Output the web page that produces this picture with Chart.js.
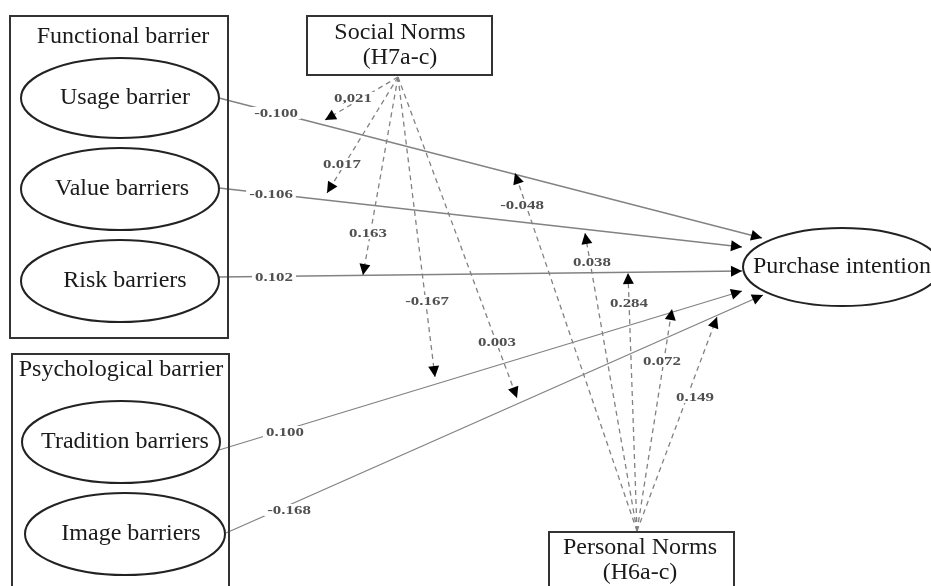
<!DOCTYPE html>
<html>
<head>
<meta charset="utf-8">
<script src="https://cdn.jsdelivr.net/npm/chart.js@4/dist/chart.umd.min.js"></script>
<style>
html,body{margin:0;padding:0;background:#fff;}
#wrap{width:931px;height:586px;position:relative;}
</style>
</head>
<body>
<div id="wrap"><canvas id="c"></canvas></div>
<script>
// ---------- data ----------
const constructs = ['Usage barrier','Value barriers','Risk barriers','Tradition barriers','Image barriers'];
const outcome = 'Purchase intention';
const groups = ['Functional barrier','Psychological barrier'];
const moderators = [['Social Norms','(H7a-c)'],['Personal Norms','(H6a-c)']];
const directCoefs = ['-0.100','-0.106','0.102','0.100','-0.168'];
const socialCoefs = ['0,021','0.017','0.163','-0.167','0.003'];
const personalCoefs = ['-0.048','0.038','0.284','0.072','0.149'];

// ---------- layout (diagram coordinates, y downward) ----------
const constructCenters = [[120,98],[120,189],[120,281],[121,442],[125,534]];
const constructRadii = [[99,40],[99,41],[99,41],[99,41],[100,41]];
const constructTextX = [125,122,125,125,131];
const outcomeCenter = [842,267];
const outcomeRadii = [99,39];
const groupBoxes = [[10,16,228,338],[12,354,229,600]];
const groupTitlePos = [[123,37],[121,370]];
const modBoxes = [[307,16,492,75],[549,532,734,600]];
const modTextPos = [[400,33,58],[640,548,573]];
const directStart = [[219,98],[219,188],[219,277],[219,450],[226,533]];
const directEnd = [[762,238],[742,247],[742,271],[742,291],[763,295]];
const directLabelPos = [[276,113],[271,194],[274,277],[285,432],[289,510]];
const socialOrigin = [398,77];
const socialEnd = [[325,120],[327,193],[363,275],[435,377],[517,398]];
const socialLabelPos = [[353,98],[342,164],[368,233],[427,301],[497,342]];
const personalOrigin = [637,531];
const personalEnd = [[515,173],[585,233],[628,273],[672,309],[717,317]];
const personalLabelPos = [[522,205],[592,262],[629,303],[662,361],[695,397]];

const LINE = '#828282';
const datasets = [];
function addEdge(a,b,dashed,label,lp){
  datasets.push({
    data:[{x:a[0],y:a[1]},{x:b[0],y:b[1]}],
    showLine:true, borderColor:LINE, borderWidth:1.3,
    borderDash: dashed?[5,4]:[],
    pointRadius:0, pointHoverRadius:0,
    edgeLabel:label, labelPos:lp, arrow:true
  });
}
for(let i=0;i<constructs.length;i++) addEdge(directStart[i],directEnd[i],false,directCoefs[i],directLabelPos[i]);
for(let i=0;i<socialCoefs.length;i++) addEdge(socialOrigin,socialEnd[i],true,socialCoefs[i],socialLabelPos[i]);
for(let i=0;i<personalCoefs.length;i++) addEdge(personalOrigin,personalEnd[i],true,personalCoefs[i],personalLabelPos[i]);

const diagramPlugin = {
  id:'diagram',
  afterDatasetsDraw(chart){
    const ctx = chart.ctx, xs = chart.scales.x, ys = chart.scales.y;
    const px = v=>xs.getPixelForValue(v), py = v=>ys.getPixelForValue(v);
    ctx.save();
    // arrowheads
    chart.data.datasets.forEach(ds=>{
      const p0 = ds.data[0], p1 = ds.data[1];
      const x0=px(p0.x), y0=py(p0.y), x1=px(p1.x), y1=py(p1.y);
      const ang = Math.atan2(y1-y0,x1-x0);
      const L=11, W=5.5;
      ctx.fillStyle='#000';
      ctx.beginPath();
      ctx.moveTo(x1,y1);
      ctx.lineTo(x1-L*Math.cos(ang)+W*Math.sin(ang), y1-L*Math.sin(ang)-W*Math.cos(ang));
      ctx.lineTo(x1-L*Math.cos(ang)-W*Math.sin(ang), y1-L*Math.sin(ang)+W*Math.cos(ang));
      ctx.closePath(); ctx.fill();
    });
    // edge labels
    ctx.font = 'bold 13px "Liberation Serif"';
    ctx.textAlign='center'; ctx.textBaseline='middle';
    chart.data.datasets.forEach(ds=>{
      const lx=px(ds.labelPos[0]), ly=py(ds.labelPos[1]);
      const w = ctx.measureText(ds.edgeLabel).width*1.3;
      ctx.fillStyle='#fff';
      ctx.fillRect(lx-w/2-3, ly-6, w+6, 12);
      ctx.save();
      ctx.translate(lx,ly); ctx.scale(1.3,1);
      ctx.fillStyle='#505050';
      ctx.fillText(ds.edgeLabel,0,1);
      ctx.restore();
    });
    // boxes
    ctx.strokeStyle='#333'; ctx.lineWidth=2;
    groupBoxes.concat(modBoxes).forEach((b,i)=>{
      const x0=px(b[0]), y0=py(b[1]), x1=px(b[2]), y1=py(b[3]);
      if(i>=groupBoxes.length){ ctx.fillStyle='#fff'; ctx.fillRect(x0,y0,x1-x0,y1-y0); }
      ctx.strokeRect(x0,y0,x1-x0,y1-y0);
    });
    // ellipses
    const ell=(c,r)=>{
      const cx=px(c[0]), cy=py(c[1]);
      const rx=px(c[0]+r[0])-cx, ry=py(c[1]+r[1])-cy;
      ctx.beginPath(); ctx.ellipse(cx,cy,Math.abs(rx),Math.abs(ry),0,0,Math.PI*2);
      ctx.fillStyle='#fff'; ctx.fill();
      ctx.strokeStyle='#222'; ctx.lineWidth=2; ctx.stroke();
    };
    constructCenters.forEach((c,i)=>ell(c,constructRadii[i]));
    ell(outcomeCenter,outcomeRadii);
    // texts
    ctx.fillStyle='#1a1a1a';
    ctx.font='24px "Liberation Serif"';
    ctx.textAlign='center'; ctx.textBaseline='middle';
    constructs.forEach((t,i)=>ctx.fillText(t,px(constructTextX[i]),py(constructCenters[i][1])));
    ctx.fillText(outcome,px(outcomeCenter[0]),py(outcomeCenter[1]));
    groups.forEach((t,i)=>ctx.fillText(t,px(groupTitlePos[i][0]),py(groupTitlePos[i][1])));
    moderators.forEach((m,i)=>{
      ctx.fillText(m[0],px(modTextPos[i][0]),py(modTextPos[i][1]));
      ctx.fillText(m[1],px(modTextPos[i][0]),py(modTextPos[i][2]));
    });
    ctx.restore();
  }
};

new Chart(document.getElementById('c'),{
  type:'scatter',
  data:{datasets},
  options:{
    responsive:true, maintainAspectRatio:false, animation:false,
    layout:{padding:0},
    scales:{
      x:{type:'linear',min:0,max:931,display:false},
      y:{type:'linear',min:0,max:586,reverse:true,display:false}
    },
    plugins:{legend:{display:false},tooltip:{enabled:false}},
    events:[]
  },
  plugins:[diagramPlugin]
});
</script>
</body>
</html>
